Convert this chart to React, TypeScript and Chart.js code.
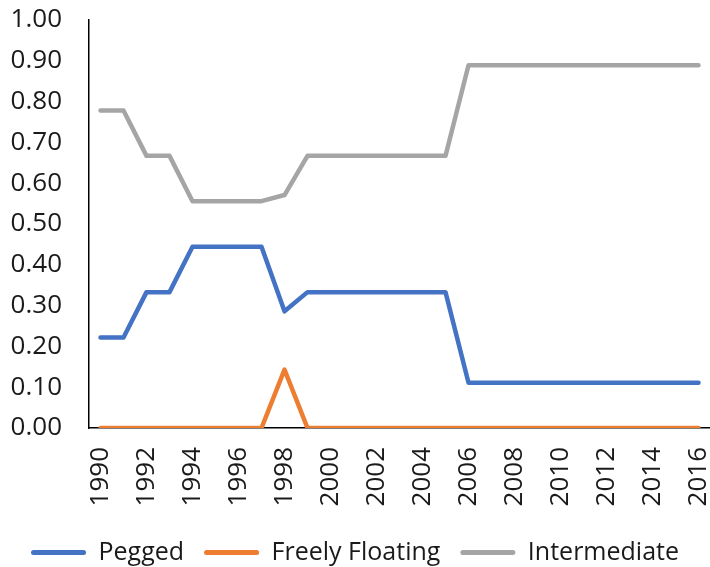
import React, { useEffect, useRef } from "react";
import { Chart, registerables } from "chart.js";

Chart.register(...registerables);

const years: string[] = [
  "1990","1991","1992","1993","1994","1995","1996","1997","1998","1999",
  "2000","2001","2002","2003","2004","2005","2006","2007","2008","2009",
  "2010","2011","2012","2013","2014","2015","2016",
];

const pegged: number[] = [
  0.222, 0.222, 0.333, 0.333, 0.444, 0.444, 0.444, 0.444, 0.286, 0.333,
  0.333, 0.333, 0.333, 0.333, 0.333, 0.333, 0.111, 0.111, 0.111, 0.111,
  0.111, 0.111, 0.111, 0.111, 0.111, 0.111, 0.111,
];

const freelyFloating: number[] = [
  0, 0, 0, 0, 0, 0, 0, 0, 0.143, 0,
  0, 0, 0, 0, 0, 0, 0, 0, 0, 0,
  0, 0, 0, 0, 0, 0, 0,
];

const intermediate: number[] = [
  0.778, 0.778, 0.667, 0.667, 0.556, 0.556, 0.556, 0.556, 0.571, 0.667,
  0.667, 0.667, 0.667, 0.667, 0.667, 0.667, 0.889, 0.889, 0.889, 0.889,
  0.889, 0.889, 0.889, 0.889, 0.889, 0.889, 0.889,
];

const FONT = "'Open Sans'";
const TEXT = "#1a1a1a";

export default function App() {
  const ref = useRef<HTMLCanvasElement | null>(null);

  useEffect(() => {
    if (!ref.current) return;
    const mk = (label: string, data: number[], color: string) => ({
      label,
      data,
      borderColor: color,
      backgroundColor: color,
      borderWidth: 4.5,
      pointRadius: 0,
      tension: 0,
      borderCapStyle: "round" as const,
      borderJoinStyle: "round" as const,
    });
    const chart = new Chart(ref.current, {
      type: "line",
      data: {
        labels: years,
        datasets: [
          mk("Pegged", pegged, "#4472C4"),
          mk("Freely Floating", freelyFloating, "#ED7D31"),
          mk("Intermediate", intermediate, "#A5A5A5"),
        ],
      },
      options: {
        animation: false,
        responsive: false,
        maintainAspectRatio: false,
        layout: { padding: { left: 0, right: 0, top: 20, bottom: 0 } },
        plugins: {
          tooltip: { enabled: false },
          legend: {
            position: "bottom",
            labels: {
              font: { family: FONT, size: 25 },
              color: TEXT,
              boxWidth: 55,
              boxHeight: 5,
              padding: 20,
              useBorderRadius: true,
              borderRadius: 2.5,
              generateLabels: (c: any) =>
                Chart.defaults.plugins.legend.labels
                  .generateLabels(c)
                  .map((l: any) => ({ ...l, lineWidth: 0 })),
            },
          },
        },
        scales: {
          x: {
            offset: true,
            afterFit: (s: any) => {
              s.paddingLeft = 0;
              s.paddingRight = 0;
              s.height = 92;
            },
            grid: { display: false, drawTicks: false },
            border: { display: true, color: "#000", width: 1.5 },
            ticks: {
              autoSkip: false,
              minRotation: 90,
              maxRotation: 90,
              padding: 19,
              color: TEXT,
              font: { family: FONT, size: 26 },
              callback: (_v: any, i: number) => (i % 2 === 0 ? years[i] : ""),
            },
          },
          y: {
            min: 0,
            max: 1,
            afterFit: (s: any) => {
              s.width = 89;
              s.paddingTop = 0;
              s.paddingBottom = 0;
            },
            grid: { display: false, drawTicks: false },
            border: { display: true, color: "#000", width: 1.5 },
            ticks: {
              stepSize: 0.1,
              padding: 27,
              color: TEXT,
              font: { family: FONT, size: 26 },
              callback: (v: any) => Number(v).toFixed(2),
            },
          },
        },
      },
    });
    return () => chart.destroy();
  }, []);

  return (
    <div style={{ position: "fixed", left: 0, top: 0, width: 710, height: 567, overflow: "hidden", background: "#fff" }}>
      <canvas ref={ref} width={710} height={575} style={{ display: "block" }} />
    </div>
  );
}
